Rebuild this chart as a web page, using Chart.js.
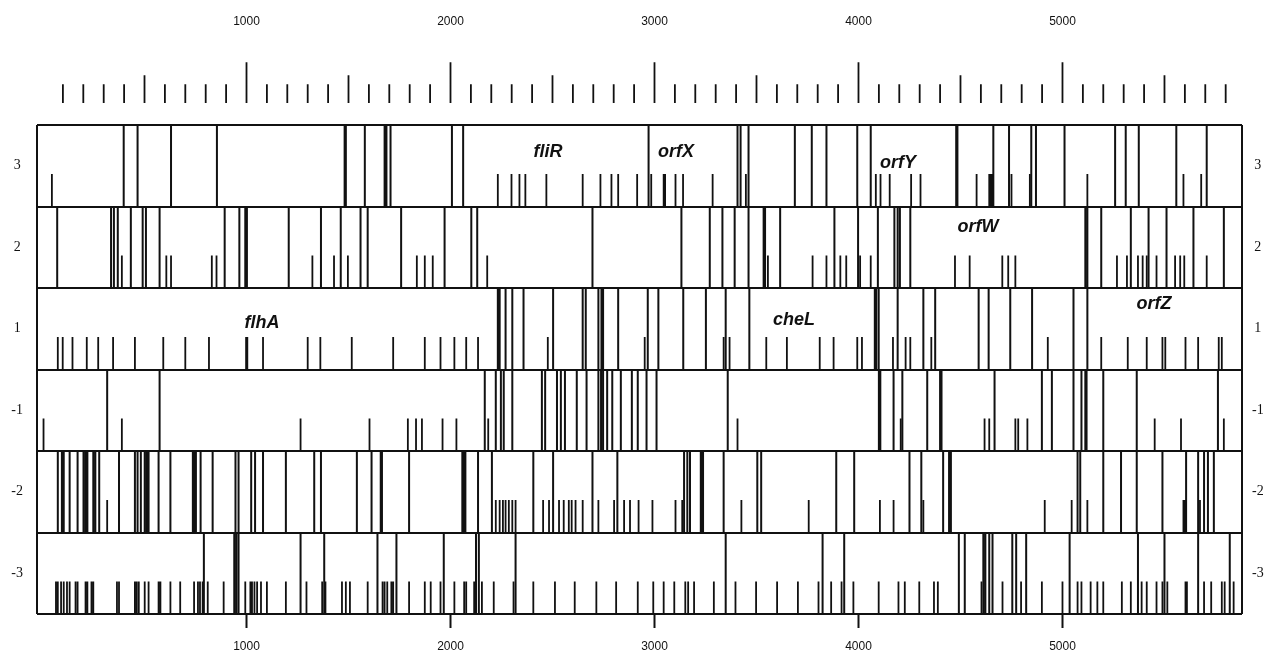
<!DOCTYPE html>
<html>
<head>
<meta charset="utf-8">
<script src="https://cdn.jsdelivr.net/npm/chart.js@4.4.1/dist/chart.umd.min.js"></script>
<style>
html,body{margin:0;padding:0;background:#fff;}
#wrap{width:1279px;height:659px;}
</style>
</head>
<body>
<div id="wrap"><canvas id="c" width="1279" height="659"></canvas></div>
<script>
// ---------- data (positions in bp) ----------
const FRAME_LABELS = ['-3', '-2', '-1', '1', '2', '3']; // bottom row to top row
const AXIS_TICKS = [1000, 2000, 3000, 4000, 5000];
const Y_TICKS = [0, 0.5, 1, 1.5, 2, 2.5, 3, 3.5, 4, 4.5, 5, 5.5, 6];
const RULER_TICKS = [100,200,300,400,500,600,700,800,900,1000,1100,1200,1300,1400,1500,1600,1700,1800,1900,2000,
  2100,2200,2300,2400,2500,2600,2700,2800,2900,3000,3100,3200,3300,3400,3500,3600,3700,3800,3900,4000,
  4100,4200,4300,4400,4500,4600,4700,4800,4900,5000,5100,5200,5300,5400,5500,5600,5700,5800];

// stop codons (full-height lines) and start codons (short lines), per frame
const frame3Stops = [398, 466, 630, 855, 1481, 1487, 1580, 1677, 1686, 1706, 2007, 2062, 2971, 3407, 3422, 3461, 3688, 3771, 3843, 3994, 4060, 4479, 4485, 4661, 4738, 4847, 4870, 5010, 5258, 5310, 5374, 5558, 5707];
const frame3Starts = [46, 2232, 2299, 2338, 2367, 2470, 2648, 2735, 2789, 2822, 2915, 2984, 3045, 3052, 3103, 3140, 3285, 3448, 4085, 4108, 4153, 4258, 4304, 4579, 4641, 4649, 4657, 4750, 4840, 5122, 5593, 5680];

const frame2Stops = [72, 336, 350, 369, 433, 491, 507, 574, 893, 965, 994, 1002, 1207, 1365, 1462, 1559, 1594, 1758, 1971, 2102, 2131, 2696, 3132, 3271, 3333, 3393, 3461, 3535, 3542, 3616, 3882, 3998, 4095, 4176, 4192, 4203, 4254, 5112, 5122, 5190, 5335, 5422, 5510, 5642, 5791];
const frame2Starts = [389, 607, 630, 830, 853, 1323, 1429, 1497, 1835, 1874, 1913, 2180, 3556, 3775, 3843, 3911, 3940, 4008, 4060, 4473, 4545, 4705, 4734, 4769, 5267, 5316, 5370, 5393, 5413, 5461, 5552, 5577, 5597, 5707];

const frame1Stops = [2232, 2241, 2270, 2303, 2358, 2503, 2648, 2663, 2725, 2740, 2748, 2822, 2967, 3019, 3141, 3252, 3349, 3465, 4080, 4087, 4099, 4192, 4318, 4376, 4589, 4638, 4744, 4851, 5054, 5122];
const frame1Starts = [75, 99, 147, 217, 273, 346, 453, 592, 700, 816, 998, 1004, 1081, 1300, 1362, 1516, 1719, 1874, 1951, 2019, 2077, 2135, 2477, 2952, 3339, 3368, 3548, 3649, 3810, 3878, 3994, 4017, 4169, 4231, 4254, 4357, 4928, 5190, 5320, 5413, 5490, 5504, 5603, 5665, 5766, 5781];

const frameM1Stops = [317, 574, 2168, 2222, 2247, 2261, 2303, 2448, 2464, 2522, 2541, 2561, 2619, 2667, 2725, 2738, 2748, 2768, 2793, 2835, 2889, 2918, 2961, 3010, 3359, 4100, 4107, 4172, 4215, 4337, 4400, 4407, 4667, 4899, 4948, 5054, 5093, 5112, 5118, 5200, 5364, 5762];
const frameM1Starts = [5, 389, 1265, 1603, 1791, 1831, 1860, 1961, 2029, 2185, 3407, 4207, 4618, 4641, 4769, 4783, 4828, 5452, 5581, 5791];

const frameM2Stops = [75, 95, 104, 133, 172, 201, 211, 220, 249, 259, 278, 375, 453, 466, 482, 501, 511, 520, 569, 627, 737, 745, 752, 775, 834, 946, 961, 1023, 1042, 1081, 1193, 1332, 1365, 1541, 1613, 1658, 1664, 1797, 2058, 2066, 2073, 2135, 2203, 2406, 2503, 2696, 2818, 3145, 3161, 3174, 3227, 3233, 3238, 3339, 3504, 3523, 3891, 3979, 4250, 4308, 4415, 4444, 4453, 5074, 5087, 5200, 5287, 5364, 5490, 5606, 5665, 5694, 5713, 5742];
const frameM2Starts = [317, 2222, 2241, 2257, 2270, 2286, 2303, 2319, 2454, 2483, 2532, 2555, 2580, 2594, 2613, 2648, 2725, 2802, 2851, 2880, 2922, 2990, 3103, 3136, 3426, 3756, 4105, 4172, 4318, 4913, 5045, 5122, 5593, 5600, 5606, 5674];

const frameM3Stops = [791, 940, 950, 961, 1265, 1381, 1642, 1735, 1967, 2125, 2139, 2319, 3349, 3824, 3930, 4492, 4521, 4612, 4622, 4641, 4657, 4754, 4773, 4822, 5035, 5370, 5500, 5665, 5820];
const frameM3Starts = [66, 75, 91, 104, 120, 133, 162, 172, 211, 220, 240, 249, 365, 375, 453, 462, 472, 501, 520, 569, 578, 627, 675, 743, 762, 772, 785, 810, 888, 994, 1019, 1027, 1039, 1052, 1071, 1100, 1193, 1294, 1371, 1387, 1468, 1487, 1507, 1594, 1667, 1677, 1690, 1710, 1719, 1797, 1874, 1903, 1951, 2019, 2067, 2077, 2116, 2154, 2212, 2309, 2406, 2512, 2609, 2715, 2812, 2918, 2994, 3045, 3097, 3151, 3165, 3194, 3291, 3397, 3498, 3601, 3703, 3804, 3866, 3917, 3975, 4099, 4196, 4227, 4298, 4370, 4389, 4603, 4706, 4797, 4899, 5000, 5074, 5093, 5138, 5171, 5200, 5291, 5335, 5388, 5413, 5461, 5490, 5514, 5603, 5610, 5694, 5729, 5781, 5795, 5839];

// gene names: label, bp position, vertical position (row units)
const GENE_NAMES = ['fliR', 'orfX', 'orfY', 'orfW', 'flhA', 'cheL', 'orfZ'];
const GENE_POS   = [2478, 3105, 4194, 4586, 1076, 3684, 5449];
const GENE_Y     = [5.67, 5.67, 5.53, 4.75, 3.57, 3.61, 3.80];

// ---------- layout / style constants ----------
const X_MIN = -27, X_MAX = 5880;
const Y_MAX = 7.166;
const START_HEIGHT = 0.4;
const RULER_BASE = 6.27, RULER_SMALL = 6.50, RULER_MID = 6.61, RULER_BIG = 6.77;
const INK = '#111';

const frames = [
  { stops: frameM3Stops, starts: frameM3Starts },
  { stops: frameM2Stops, starts: frameM2Starts },
  { stops: frameM1Stops, starts: frameM1Starts },
  { stops: frame1Stops,  starts: frame1Starts },
  { stops: frame2Stops,  starts: frame2Starts },
  { stops: frame3Stops,  starts: frame3Starts }
];

function segments(xs, y0, y1fn) {
  const pts = [];
  xs.forEach(x => {
    pts.push({ x: x, y: y0 });
    pts.push({ x: x, y: y1fn(x) });
    pts.push({ x: x, y: null });
  });
  return pts;
}

const baseLine = { showLine: true, pointRadius: 0, pointHoverRadius: 0, borderColor: INK, spanGaps: false, fill: false, tension: 0 };
const datasets = [];
frames.forEach((f, row) => {
  datasets.push(Object.assign({}, baseLine, { label: 'stop ' + FRAME_LABELS[row], data: segments(f.stops, row, () => row + 1), borderWidth: 2 }));
  datasets.push(Object.assign({}, baseLine, { label: 'start ' + FRAME_LABELS[row], data: segments(f.starts, row, () => row + START_HEIGHT), borderWidth: 1.8 }));
});
// ruler
datasets.push(Object.assign({}, baseLine, {
  label: 'ruler',
  data: segments(RULER_TICKS, RULER_BASE, v => (v % 1000 === 0 ? RULER_BIG : (v % 500 === 0 ? RULER_MID : RULER_SMALL))),
  borderWidth: 1.8
}));
// box edges
datasets.push(Object.assign({}, baseLine, {
  label: 'edges',
  data: segments([X_MIN, X_MAX], 0, () => 6),
  borderWidth: 2, clip: 4
}));

const geneLabelPlugin = {
  id: 'geneLabels',
  afterDatasetsDraw(chart) {
    const { ctx } = chart;
    const x = chart.scales.x, y = chart.scales.y;
    ctx.save();
    ctx.font = 'italic bold 18px "Liberation Sans", Arial, sans-serif';
    ctx.textAlign = 'center';
    ctx.textBaseline = 'middle';
    ctx.fillStyle = INK;
    GENE_NAMES.forEach((g, i) => {
      ctx.fillText(g, x.getPixelForValue(GENE_POS[i]), y.getPixelForValue(GENE_Y[i]));
    });
    ctx.restore();
  }
};

function frameLabel(v) {
  const k = Math.floor(v);
  return (Math.abs(v - k - 0.5) < 1e-6 && k >= 0 && k < FRAME_LABELS.length) ? FRAME_LABELS[k] : '';
}

const numFont = { family: '"Liberation Sans", Arial, sans-serif', size: 12 };
const rowFont = { family: '"Liberation Serif", "Times New Roman", serif', size: 14 };

new Chart(document.getElementById('c'), {
  type: 'scatter',
  data: { datasets },
  options: {
    responsive: false,
    animation: false,
    events: [],
    devicePixelRatio: 1,
    layout: { padding: 0 },
    plugins: { legend: { display: false }, tooltip: { enabled: false } },
    scales: {
      x: {
        type: 'linear', position: 'bottom', min: X_MIN, max: X_MAX,
        afterBuildTicks: a => { a.ticks = AXIS_TICKS.map(v => ({ value: v })); },
        afterFit: a => { a.height = 45; },
        grid: { display: true, drawOnChartArea: false, drawTicks: true, tickLength: 14, tickWidth: 2, tickColor: INK },
        border: { display: false },
        ticks: { color: INK, font: numFont, padding: 11, maxRotation: 0, autoSkip: false, callback: v => String(v) }
      },
      xt: {
        type: 'linear', position: 'top', min: X_MIN, max: X_MAX,
        afterBuildTicks: a => { a.ticks = AXIS_TICKS.map(v => ({ value: v })); },
        afterFit: a => { a.height = 30; },
        grid: { display: false, drawTicks: false },
        border: { display: false },
        ticks: { color: INK, font: numFont, padding: 1, maxRotation: 0, autoSkip: false, callback: v => String(v) }
      },
      y: {
        type: 'linear', position: 'left', min: 0, max: Y_MAX,
        afterBuildTicks: a => { a.ticks = Y_TICKS.map(v => ({ value: v })); },
        afterFit: a => { a.width = 37; },
        grid: {
          drawTicks: false, lineWidth: 2,
          color: c => (c.tick && Number.isInteger(c.tick.value)) ? INK : 'rgba(0,0,0,0)'
        },
        border: { display: false },
        ticks: { color: INK, font: rowFont, crossAlign: 'center', padding: 14, autoSkip: false, callback: v => frameLabel(v) }
      },
      y2: {
        type: 'linear', position: 'right', min: 0, max: Y_MAX,
        afterBuildTicks: a => { a.ticks = Y_TICKS.map(v => ({ value: v })); },
        afterFit: a => { a.width = 37; },
        grid: { display: false, drawTicks: false },
        border: { display: false },
        ticks: { color: INK, font: rowFont, crossAlign: 'center', padding: 10, autoSkip: false, callback: v => frameLabel(v) }
      }
    }
  },
  plugins: [geneLabelPlugin]
});
</script>
</body>
</html>
